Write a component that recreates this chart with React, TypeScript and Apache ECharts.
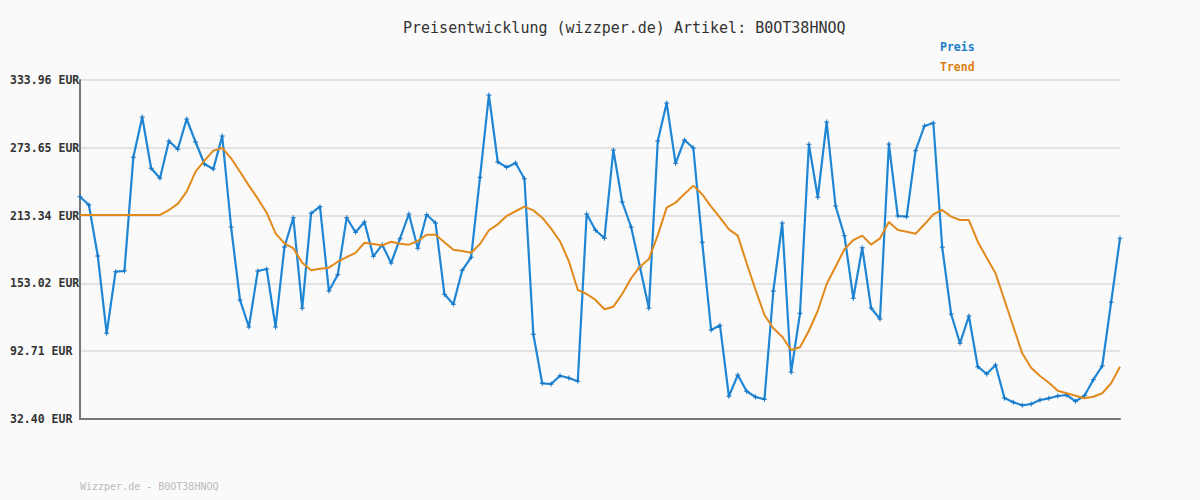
import React, { useEffect, useRef } from "react";
import * as echarts from "echarts";

const TITLE = "Preisentwicklung (wizzper.de) Artikel: B0OT38HNOQ";
const FOOTER = "Wizzper.de - B0OT38HNOQ";
const SERIES_NAMES = ["Preis", "Trend"];
const Y_MIN = 32.4;
const Y_MAX = 333.96;
const Y_STEP = 60.312;

const price = [
  230.15, 222.77, 177.4, 108.64, 163.43, 164.05, 265.2, 301.05, 255.41, 246.52,
  279.7, 272.31, 299.27, 278.81, 259.24, 254.79, 284.15, 203.2, 138.26, 114.24,
  164.05, 165.83, 114.24, 185.4, 211.47, 130.87, 215.38, 221.25, 146.26, 160.76,
  211.47, 198.48, 207.64, 177.13, 187.45, 171.17, 192.79, 214.76, 184.25, 214.14,
  206.75, 143.33, 134.43, 164.68, 176.24, 247.41, 320.62, 261.02, 256.3, 260.13,
  246.16, 107.75, 64.16, 63.53, 70.92, 68.87, 65.94, 214.76, 200.26, 193.14,
  271.69, 225.43, 203.2, 167.35, 130.87, 279.7, 313.5, 259.86, 280.59, 273.47,
  189.59, 111.57, 115.75, 52.59, 71.54, 57.04, 51.97, 49.92, 146.26, 206.75,
  73.94, 126.43, 276.76, 229.62, 296.6, 221.88, 195.46, 139.77, 184.78, 131.14,
  121.36, 277.03, 212.98, 212.36, 271.07, 293.04, 295.71, 185.14, 125.8, 99.74,
  124.02, 78.92, 72.43, 80.44, 51.08, 47.26, 44.59, 45.74, 49.3, 50.81,
  52.86, 53.75, 48.15, 53.13, 67.36, 79.55, 136.21, 193.14,
];

const trend = [
  213.9, 213.9, 213.9, 213.9, 213.9, 213.9, 213.9, 213.9, 213.9, 213.9,
  218.3, 223.7, 234.6, 252.4, 262.2, 271.1, 273.5, 264.3, 252.4, 240.0,
  228.4, 215.9, 197.6, 188.7, 184.2, 171.4, 164.7, 166.1, 167.0, 172.3,
  176.5, 180.1, 189.2, 188.1, 186.9, 190.1, 188.3, 187.5, 190.7, 196.3,
  196.3, 189.6, 183.0, 181.8, 180.3, 188.1, 200.3, 205.6, 213.0, 217.2,
  221.3, 218.0, 211.5, 201.7, 190.5, 172.7, 147.2, 143.6, 138.3, 130.0,
  132.3, 143.6, 157.6, 167.9, 174.7, 196.0, 220.4, 224.8, 232.6, 240.0,
  232.3, 221.3, 211.5, 201.1, 195.5, 170.9, 147.2, 124.9, 113.1, 105.6,
  93.8, 96.2, 110.9, 128.7, 152.5, 167.9, 183.4, 191.6, 195.5, 187.5,
  193.1, 207.6, 200.5, 199.0, 197.2, 205.6, 214.5, 218.3, 212.4, 209.4,
  209.4, 190.1, 175.9, 162.0, 138.3, 114.5, 90.8, 78.0, 70.7, 64.7,
  57.6, 55.3, 53.1, 50.8, 52.2, 55.3, 64.2, 78.9,
];

const categories = price.map((_, i) => String(i + 1));

const MONO = "'DejaVu Sans Mono', 'Liberation Mono', monospace";
const BLUE = "#1e86d4";
const ORANGE = "#e2891b";

export default function App() {
  const ref = useRef<HTMLDivElement>(null);

  useEffect(() => {
    if (!ref.current) return;
    const chart = echarts.init(ref.current, undefined, { renderer: "svg" });
    const shift = (v: number) => +(v - Y_MIN).toFixed(4);
    chart.setOption({
      animation: false,
      backgroundColor: "#fafafa",
      title: {
        text: TITLE,
        left: 398,
        top: 15,
        textStyle: {
          fontFamily: MONO,
          fontSize: 15,
          fontWeight: "normal",
          color: "#333",
        },
      },
      legend: {
        orient: "vertical",
        left: 930,
        top: 35,
        icon: "none",
        itemWidth: 0,
        itemHeight: 14,
        itemGap: 7,
        selectedMode: false,
        textStyle: { fontFamily: MONO, fontSize: 11.5, fontWeight: "bold" },
        data: [
          { name: SERIES_NAMES[0], textStyle: { color: "#1a7cc6" } },
          { name: SERIES_NAMES[1], textStyle: { color: "#dc7f12" } },
        ],
      },
      grid: { left: 80, right: 80, top: 80, bottom: 81, containLabel: false },
      xAxis: {
        type: "category",
        boundaryGap: false,
        data: categories,
        axisLine: { show: true, lineStyle: { color: "#777", width: 2 } },
        axisTick: { show: false },
        axisLabel: { show: false },
        splitLine: { show: false },
      },
      yAxis: {
        type: "value",
        min: 0,
        max: +(Y_MAX - Y_MIN).toFixed(4),
        interval: Y_STEP,
        axisLine: { show: true, lineStyle: { color: "#777", width: 2 } },
        axisTick: { show: false },
        splitLine: { show: true, lineStyle: { color: "#e3e3e3", width: 2 } },
        axisLabel: {
          align: "left",
          margin: 70,
          fontFamily: MONO,
          fontSize: 11.5,
          fontWeight: "bold",
          color: "#333",
          formatter: (v: number) => (v + Y_MIN).toFixed(2) + " EUR",
        },
      },
      graphic: [
        {
          type: "text",
          left: 80,
          top: 481,
          style: {
            text: FOOTER,
            fontFamily: MONO,
            fontSize: 10,
            fill: "#bbbbbb",
          },
        },
      ],
      series: [
        {
          name: SERIES_NAMES[0],
          type: "line",
          data: price.map(shift),
          symbol: "path://M2,0H3V2H5V3H3V5H2V3H0V2H2Z",
          symbolSize: 5,
          itemStyle: { color: "#1473c2" },
          lineStyle: { color: BLUE, width: 2.2 },
          z: 2,
        },
        {
          name: SERIES_NAMES[1],
          type: "line",
          data: trend.map(shift),
          symbol: "none",
          itemStyle: { color: ORANGE },
          lineStyle: { color: ORANGE, width: 2 },
          z: 3,
        },
      ],
    });
    return () => chart.dispose();
  }, []);

  return (
    <div
      ref={ref}
      style={{ position: "fixed", left: 0, top: 0, width: 1200, height: 500 }}
    />
  );
}
